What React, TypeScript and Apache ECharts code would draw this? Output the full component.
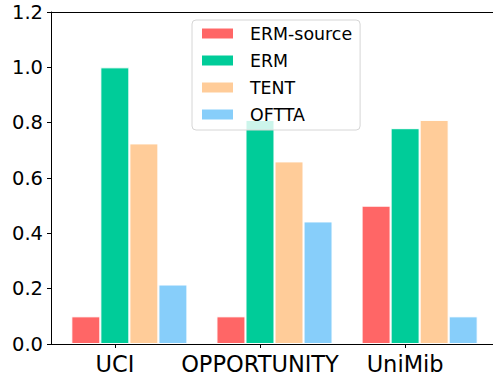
import React, { useEffect, useRef } from "react";
import * as echarts from "echarts";

// Datasets along the x axis
const categories = ["UCI", "OPPORTUNITY", "UniMib"];

// Methods (one bar per dataset each)
const methods = ["ERM-source", "ERM", "TENT", "OFTTA"];

// Scores per method, in the order of `categories`
const ermSource = [0.1, 0.1, 0.5];
const erm = [1.0, 0.81, 0.78];
const tent = [0.725, 0.66, 0.81];
const oftta = [0.215, 0.443, 0.1];

const yTicks = [0, 0.2, 0.4, 0.6, 0.8, 1.0, 1.2];

const colors = ["#FF6666", "#00CC99", "#FFCC99", "#87CEFA"];

const FONT = "DejaVu Sans";

export default function App() {
  const ref = useRef<HTMLDivElement>(null);

  useEffect(() => {
    document.body.style.margin = "0";
    if (!ref.current) return;
    const chart = echarts.init(ref.current, undefined, { renderer: "svg" });

    const seriesValues = [ermSource, erm, tent, oftta];
    const barStep = 0.2; // bar width in category units
    const offsets = [-1, 0, 1, 2].map((k) => k * barStep);

    const series = methods.map((name, k) => ({
      name,
      type: "bar" as const,
      xAxisIndex: 0,
      data: seriesValues[k].map((v, i) => [i + offsets[k], v]),
      barWidth: 29,
      barGap: "-100%",
      itemStyle: { color: colors[k], borderColor: "#ffffff", borderWidth: 1 },
      emphasis: { disabled: true },
    }));

    const xMin = -0.44;
    const xMax = 2.64;

    chart.setOption({
      animation: false,
      textStyle: { fontFamily: FONT },
      grid: {
        left: 51,
        width: 447,
        top: 12,
        height: 332,
        outerBoundsMode: "none",
        containLabel: false,
        show: false,
      },
      legend: {
        orient: "vertical",
        left: 192,
        top: 20,
        data: methods,
        itemWidth: 33,
        itemHeight: 12,
        itemGap: 10,
        padding: [5, 8, 7, 8],
        backgroundColor: "rgba(255,255,255,0.8)",
        borderColor: "#d6d6d6",
        borderWidth: 1,
        borderRadius: 4,
        icon: "rect",
        textStyle: {
          fontFamily: FONT,
          fontSize: 17.4,
          color: "#000",
          padding: [0, 0, 0, 11],
        },
        selectedMode: false,
      },
      xAxis: [
        {
          type: "value",
          min: xMin,
          max: xMax,
          splitLine: { show: false },
          axisLine: { show: true, onZero: false, lineStyle: { color: "#000", width: 1 } },
          axisTick: {
            show: true,
            customValues: [0, 1, 2],
            length: 4,
            inside: false,
            lineStyle: { color: "#000" },
          },
          axisLabel: {
            customValues: [0, 1, 2],
            formatter: (v: number) => categories[Math.round(v)] ?? "",
            fontFamily: FONT,
            fontSize: 22.5,
            color: "#000",
            margin: 8,
          },
        },
        {
          // top spine of the plot frame
          type: "value",
          position: "top",
          min: xMin,
          max: xMax,
          splitLine: { show: false },
          axisLine: { show: true, onZero: false, lineStyle: { color: "#000", width: 1 } },
          axisTick: { show: false },
          axisLabel: { show: false },
        },
      ],
      yAxis: {
        type: "value",
        min: 0,
        max: 1.2,
        interval: 0.2,
        splitLine: { show: false },
        axisLine: { show: true, onZero: false, lineStyle: { color: "#000", width: 1 } },
        axisTick: { show: true, length: 4, lineStyle: { color: "#000" } },
        axisLabel: {
          customValues: yTicks,
          formatter: (v: number) => v.toFixed(1),
          fontFamily: FONT,
          fontSize: 19.5,
          color: "#000",
          margin: 8,
        },
      },
      series,
    });

    return () => chart.dispose();
  }, []);

  // The plot frame runs past the right edge, so the canvas is wider than the visible area.
  return (
    <div style={{ width: 493, height: 377, overflow: "hidden" }}>
      <div ref={ref} style={{ width: 530, height: 377 }} />
    </div>
  );
}
